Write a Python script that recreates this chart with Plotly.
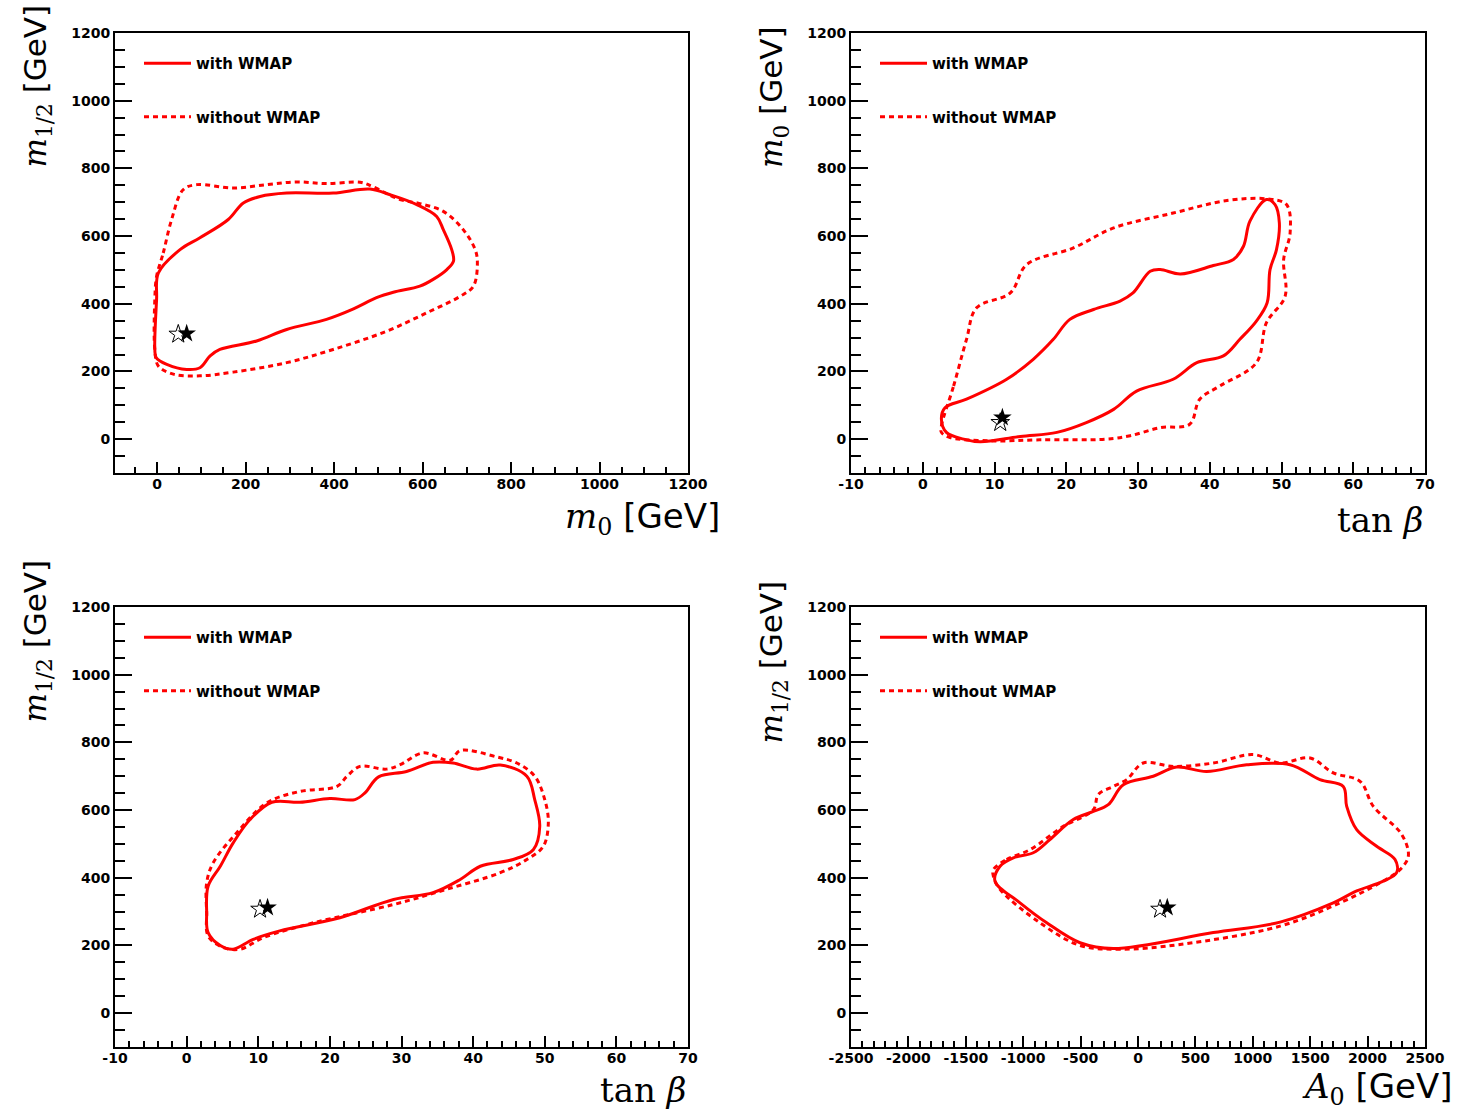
import plotly.graph_objects as go

W, H = 1457, 1110

# ---------------- data ----------------
# Panel 1: m0 vs m1/2
p1_with_x = [3, 52, 97, 161, 195, 233, 293, 398, 481, 527, 587, 632, 647, 666, 670, 655, 624, 594, 534, 496,
             444, 383, 293, 225, 142, 120, 97, 67, 22, -2, -5, -1, 3]
p1_with_y = [491, 560, 595, 649, 698, 717, 727, 727, 739, 722, 693, 658, 619, 560, 526, 501, 472, 452, 434, 418,
             385, 354, 324, 290, 265, 246, 211, 206, 221, 241, 265, 413, 491]
p1_without_x = [-1, 14, 33, 59, 90, 172, 248, 316, 383, 459, 489, 549, 594, 647, 692, 719, 724, 715, 685, 609,
                519, 398, 293, 172, 97, 37, 3, -5, -5, -1]
p1_without_y = [481, 550, 649, 737, 752, 742, 752, 760, 755, 759, 745, 708, 696, 673, 619, 560, 521, 452, 422, 373,
                319, 265, 226, 198, 187, 192, 216, 265, 413, 481]
p1_star_open = (48, 310)
p1_star_fill = (67, 312)

# Panel 2: tan(beta) vs m0
p2_with_x = [3.1, 6.1, 11.7, 15.4, 18.2, 20.5, 23.8, 27.5, 29.3, 31.7, 33.1, 35.9, 40.5, 43.3, 44.7, 45.6, 47.9,
             49.1, 49.7, 49.3, 48.4, 48.0, 46.5, 44.2, 41.9, 38.2, 34.9, 29.8, 26.6, 22.8, 18.7, 13.6, 8.0, 5.7,
             3.3, 2.6, 3.1]
p2_with_y = [93, 118, 177, 236, 295, 354, 383, 408, 432, 496, 501, 488, 513, 531, 570, 644, 708,
             693, 639, 560, 501, 403, 349, 295, 246, 226, 177, 142, 88, 49, 20, 8, -8, 0,
             20, 59, 93]
p2_without_x = [2.6, 4.3, 6.1, 7.5, 12.2, 14.5, 21.0, 26.6, 34.9, 42.4, 47.9, 50.7, 51.2, 50.3, 50.5, 47.9, 46.5,
                41.4, 38.6, 37.2, 33.1, 28.9, 25.6, 16.3, 9.4, 3.8, 2.6, 2.6]
p2_without_y = [39, 157, 295, 388, 432, 516, 565, 624, 668, 705, 710, 693, 609, 531, 422, 344, 226,
                157, 118, 44, 34, 10, 0, -2, -5, 5, 20, 39]
p2_star_open = (10.8, 49)
p2_star_fill = (11.1, 64)

# Panel 3: tan(beta) vs m1/2
p3_with_x = [3.0, 4.7, 6.5, 8.85, 11.9, 15.8, 20.0, 23.5, 24.9, 26.8, 30.7, 34.4, 37.2, 40.5, 43.8, 47.5, 48.6,
             49.3, 48.4, 45.6, 41.0, 38.2, 34.4, 28.9, 21.4, 13.0, 9.3, 6.5, 4.7, 3.0, 2.8, 3.0]
p3_with_y = [375, 434, 503, 572, 623, 623, 634, 631, 651, 698, 714, 741, 739, 721, 733, 700, 631,
             552, 483, 454, 434, 395, 356, 336, 282, 243, 218, 189, 200, 238, 297, 375]
p3_without_x = [2.8, 3.7, 7.0, 11.2, 15.8, 21.0, 22.4, 24.2, 27.9, 29.8, 33.0, 36.8, 38.2, 43.3, 46.1, 48.6, 50.0,
                50.5, 49.8, 47.5, 43.8, 36.3, 28.9, 17.7, 10.7, 7.5, 5.1, 3.0, 2.8, 2.8]
p3_without_y = [385, 444, 533, 621, 655, 670, 700, 729, 721, 734, 769, 747, 776, 757, 739, 700, 631,
                562, 493, 454, 415, 366, 321, 267, 223, 189, 194, 228, 297, 385]
p3_star_open = (10.25, 307)
p3_star_fill = (11.3, 312)

# Panel 4: A0 vs m1/2
p4_with_x = [-1246, -1202, -1086, -912, -767, -564, -389, -259, -128, 133, 337, 598, 947, 1324, 1585, 1788, 1818,
             1905, 2079, 2239, 2253, 2137, 1905, 1701, 1237, 656, -215, -505, -795, -1028, -1246]
p4_with_y = [390, 434, 459, 474, 513, 572, 596, 616, 675, 700, 727, 714, 734, 734, 690, 670, 611,
             542, 493, 454, 415, 390, 361, 326, 269, 238, 191, 208, 267, 326, 390]
p4_without_x = [-1260, -1144, -941, -651, -389, -346, -215, -98, 46, 308, 656, 1004, 1237, 1498, 1701, 1934, 2050,
                2297, 2355, 2282, 2108, 1760, 1237, 366, -157, -505, -854, -1202, -1260, -1260]
p4_without_y = [424, 454, 483, 552, 601, 646, 670, 690, 739, 729, 739, 764, 739, 754, 710, 685, 611,
                528, 464, 424, 385, 326, 257, 203, 189, 200, 267, 366, 405, 424]
p4_star_open = (192, 307)
p4_star_fill = (255, 312)

legend_labels = ["with WMAP", "without WMAP"]

# tick labels (hyphen minus as in the reference)
m0_ticks = [0, 200, 400, 600, 800, 1000, 1200]
tanb_ticks = [-10, 0, 10, 20, 30, 40, 50, 60, 70]
a0_ticks = [-2500, -2000, -1500, -1000, -500, 0, 500, 1000, 1500, 2000, 2500]
mass_ticks = [0, 200, 400, 600, 800, 1000, 1200]

# ---------------- figure ----------------
RED = "#ff0000"
fig = go.Figure()

panels = [
    (p1_with_x, p1_with_y, p1_without_x, p1_without_y, p1_star_open, p1_star_fill),
    (p2_with_x, p2_with_y, p2_without_x, p2_without_y, p2_star_open, p2_star_fill),
    (p3_with_x, p3_with_y, p3_without_x, p3_without_y, p3_star_open, p3_star_fill),
    (p4_with_x, p4_with_y, p4_without_x, p4_without_y, p4_star_open, p4_star_fill),
]

for i, (wx, wy, nx, ny, so, sf) in enumerate(panels):
    n = "" if i == 0 else str(i + 1)
    xa, ya, lg = "x" + n, "y" + n, "legend" + n
    fig.add_trace(go.Scatter(x=wx, y=wy, mode="lines", name=legend_labels[0], xaxis=xa, yaxis=ya,
                             line=dict(color=RED, width=3, shape="spline", smoothing=1.0),
                             legend=lg, legendgroup=f"w{i}"))
    fig.add_trace(go.Scatter(x=nx, y=ny, mode="lines", name=legend_labels[1], xaxis=xa, yaxis=ya,
                             line=dict(color=RED, width=3, shape="spline", smoothing=1.0, dash="5px,4px"),
                             legend=lg, legendgroup=f"n{i}"))
    fig.add_trace(go.Scatter(x=[so[0]], y=[so[1]], mode="markers", xaxis=xa, yaxis=ya, showlegend=False,
                             marker=dict(symbol="star-open", size=14, color="black", line=dict(width=1, color="black"))))
    fig.add_trace(go.Scatter(x=[sf[0]], y=[sf[1]], mode="markers", xaxis=xa, yaxis=ya, showlegend=False,
                             marker=dict(symbol="star", size=14, color="black", line=dict(width=0))))

# domains (paper fractions) from pixel positions
def xd(a, b):
    return [a / W, b / W]

def yd(top, bot):
    return [1 - bot / H, 1 - top / H]

xdoms = [xd(115, 688), xd(851, 1425), xd(115, 688), xd(851, 1425)]
ydoms = [yd(33, 473), yd(33, 473), yd(607, 1047), yd(607, 1047)]
xranges = [[-95, 1200], [-10, 70], [-10, 70], [-2500, 2500]]
xticks = [m0_ticks, tanb_ticks, tanb_ticks, a0_ticks]
xminor = [50, 2, 2, 100]

tickfont = dict(family="DejaVu Sans", size=14, color="black", weight="bold")

layout = dict(width=W, height=H, margin=dict(l=0, r=0, t=0, b=0, autoexpand=False),
              paper_bgcolor="white", plot_bgcolor="white", showlegend=True)

for i in range(4):
    n = "" if i == 0 else str(i + 1)
    layout["xaxis" + n] = dict(domain=xdoms[i], anchor="y" + n, range=xranges[i],
                               tickmode="array", tickvals=xticks[i], ticktext=[str(v) for v in xticks[i]],
                               showgrid=False, zeroline=False, showline=True, linecolor="black", linewidth=2,
                               mirror=True, ticks="inside", ticklen=11, tickwidth=2, tickcolor="black",
                               tickfont=tickfont, automargin=False, ticklabelstandoff=-3,
                               minor=dict(ticks="inside", ticklen=6, tickwidth=1.5, tickcolor="black",
                                          dtick=xminor[i], tick0=0, showgrid=False))
    layout["yaxis" + n] = dict(domain=ydoms[i], anchor="x" + n, range=[-100, 1200],
                               tickmode="array", tickvals=mass_ticks, ticktext=[str(v) for v in mass_ticks],
                               showgrid=False, zeroline=False, showline=True, linecolor="black", linewidth=2,
                               mirror=True, ticks="inside", ticklen=17, tickwidth=2, tickcolor="black",
                               tickfont=tickfont, automargin=False,
                               minor=dict(ticks="inside", ticklen=10, tickwidth=1.5, tickcolor="black",
                                          dtick=50, tick0=0, showgrid=False))

leg_pos = [(139, 47), (875, 47), (139, 621), (875, 621)]
for i, (lx, ly) in enumerate(leg_pos):
    n = "" if i == 0 else str(i + 1)
    layout["legend" + n] = dict(x=lx / W, y=1 - ly / H, xanchor="left", yanchor="top",
                                bgcolor="rgba(0,0,0,0)", borderwidth=0, traceorder="grouped",
                                tracegroupgap=31, itemwidth=47,
                                font=dict(family="DejaVu Sans", size=15, color="black", weight="bold"))

fig.update_layout(**layout)

SERIF = "font-family:'DejaVu Serif'"
m12 = f"<span style=\"{SERIF}\"><i>m</i><sub>1/2</sub></span> [GeV]"
m0 = f"<span style=\"{SERIF}\"><i>m</i><sub>0</sub></span> [GeV]"
tanb = f"<span style=\"{SERIF}\">tan <i>β</i></span>"
a0 = f"<span style=\"{SERIF}\"><i>A</i><sub>0</sub></span> [GeV]"

titles_x = [(m0, 722, 518), (tanb, 1425, 520), (tanb, 688, 1090), (a0, 1455, 1088)]
for txt, px, py in titles_x:
    fig.add_annotation(text=txt, xref="paper", yref="paper", x=px / W, y=1 - py / H,
                       xanchor="right", yanchor="middle", showarrow=False,
                       font=dict(family="DejaVu Sans", size=34, color="black"))

titles_y = [(m12, 37, 170), (m0, 773, 170), (m12, 37, 725), (m12, 773, 745)]
for txt, px, py in titles_y:
    fig.add_annotation(text=txt, xref="paper", yref="paper", x=px / W, y=1 - py / H,
                       xanchor="center", yanchor="bottom", showarrow=False, textangle=-90,
                       font=dict(family="DejaVu Sans", size=31, color="black"))

fig.write_html("out.html", config={"displayModeBar": False},
               post_script="document.body.style.margin='0';document.body.style.overflow='hidden';")
